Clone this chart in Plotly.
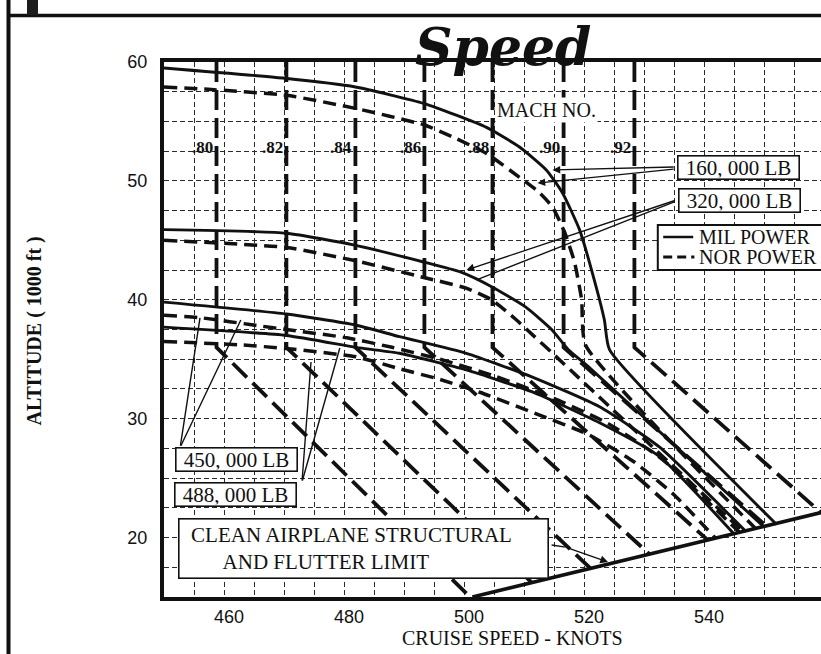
import plotly.graph_objects as go

# ---------------- data ----------------
# axes
x_range = [450, 559.5]
y_range = [15, 60]
x_grid_vals = [450, 455, 460, 465, 470, 475, 480, 485, 490, 495, 500, 505, 510,
               515, 520, 525, 530, 535, 540, 545, 550, 555]
x_grid_text = ["", "", "460", "", "", "", "480", "", "", "", "500", "", "",
               "", "520", "", "", "", "540", "", "", ""]
y_grid_vals = [15, 17.5, 20, 22.5, 25, 27.5, 30, 32.5, 35, 37.5, 40, 42.5, 45,
               47.5, 50, 52.5, 55, 57.5, 60]
y_grid_text = ["", "", "20", "", "", "", "30", "", "", "", "40", "", "",
               "", "50", "", "", "", "60"]

# Mach number lines (vertical above tropopause, diagonal below)
mach_labels = [".80", ".82", ".84", ".86", ".88", ".90", ".92"]
mach_top_kt = [458.75, 470.4, 481.9, 493.4, 504.75, 516.6, 528.4]
mach_top_alt = [60, 60, 60, 60, 60, 60, 60]
mach_break_alt = [36.0, 36.0, 36.0, 36.0, 36.0, 36.0, 36.0]
mach_end_kt = [501.0, 511.3, 521.1, 530.9, 540.6, 550.3, 559.5]
mach_end_alt = [15.0, 16.2, 17.4, 18.6, 19.8, 21.0, 22.1]

# 160,000 LB
w160_mil_kt = [450.0, 469.75, 481.9, 493.4, 503.75, 509.25, 513.75, 516.4, 519.25,
               521.4, 523.4, 524.25, 552.1]
w160_mil_alt = [59.5, 58.65, 57.9, 56.5, 54.5, 52.85, 50.9, 49.0, 45.9,
                42.25, 38.3, 35.8, 21.1]
w160_nor_kt = [450.0, 457.4, 470.4, 481.9, 493.4, 498.1, 503.75, 509.25, 512.6,
               514.75, 516.75, 518.4, 519.6, 520.25, 548.5]
w160_nor_alt = [57.9, 57.7, 57.2, 56.1, 54.7, 53.7, 52.3, 50.3, 49.0,
                47.8, 45.7, 43.2, 40.0, 36.2, 20.8]

# 320,000 LB
w320_mil_kt = [450.0, 470.4, 481.75, 493.1, 499.6, 504.6, 510.25, 514.6, 517.4,
               520.9, 550.0]
w320_mil_alt = [45.9, 45.6, 44.6, 43.2, 42.3, 41.1, 39.4, 37.5, 35.8,
                34.3, 20.9]
w320_nor_kt = [450.0, 470.4, 481.75, 493.1, 500.25, 504.6, 508.75, 511.75, 514.75,
               546.5]
w320_nor_alt = [45.0, 44.4, 43.3, 41.9, 41.0, 40.0, 38.3, 36.9, 35.5,
                20.5]

# 450,000 LB
w450_mil_kt = [450.0, 470.4, 481.75, 489.25, 500.4, 511.4, 522.6, 532.6, 547.0]
w450_mil_alt = [39.8, 38.8, 37.9, 36.9, 35.5, 33.5, 31.0, 27.6, 20.5]
w450_nor_kt = [450.0, 455.9, 466.0, 470.4, 480.5, 488.0, 496.0, 505.0, 515.0,
               524.0, 533.0, 546.0]
w450_nor_alt = [38.7, 38.5, 37.8, 37.5, 36.8, 36.0, 35.0, 33.6, 31.7,
                29.6, 26.6, 20.4]

# 488,000 LB
w488_mil_kt = [450.0, 470.4, 482.6, 489.25, 500.4, 511.4, 522.6, 532.6, 545.0]
w488_mil_alt = [37.7, 37.0, 35.95, 35.5, 34.1, 32.25, 29.65, 26.8, 20.3]
w488_nor_kt = [450.0, 463.0, 470.4, 482.0, 489.25, 496.0, 502.75, 512.6, 520.6,
               528.25, 535.0, 542.0]
w488_nor_alt = [36.5, 36.2, 35.9, 35.2, 34.2, 33.3, 32.2, 30.3, 28.7,
                26.4, 23.6, 19.9]

# clean airplane structural and flutter limit
limit_kt = [501.4, 559.5]
limit_alt = [15.0, 22.1]

# ---------------- figure ----------------
INK = "#111111"
SERIF = "Liberation Serif"
fig = go.Figure()

# Mach lines
for i in range(len(mach_labels)):
    fig.add_trace(go.Scatter(
        x=[mach_top_kt[i], mach_top_kt[i], mach_end_kt[i]],
        y=[mach_top_alt[i], mach_break_alt[i], mach_end_alt[i]],
        mode="lines", line=dict(color=INK, width=3.8, dash="20px,8px"),
        hoverinfo="skip"))

curves = [
    (w160_mil_kt, w160_mil_alt, "solid"), (w160_nor_kt, w160_nor_alt, "nor"),
    (w320_mil_kt, w320_mil_alt, "solid"), (w320_nor_kt, w320_nor_alt, "nor"),
    (w450_mil_kt, w450_mil_alt, "solid"), (w450_nor_kt, w450_nor_alt, "nor"),
    (w488_mil_kt, w488_mil_alt, "solid"), (w488_nor_kt, w488_nor_alt, "nor"),
]
for xs, ys, kind in curves:
    if kind == "solid":
        ln = dict(color=INK, width=2.9, shape="spline", smoothing=0.5)
    else:
        ln = dict(color=INK, width=3.5, dash="13px,7px", shape="spline", smoothing=0.5)
    fig.add_trace(go.Scatter(x=xs, y=ys, mode="lines", line=ln, hoverinfo="skip"))

fig.add_trace(go.Scatter(x=limit_kt, y=limit_alt, mode="lines",
                         line=dict(color=INK, width=3.6), hoverinfo="skip"))

grid = dict(showgrid=True, gridcolor="#2a2a2a", gridwidth=1.2, griddash="5px,3px",
            zeroline=False)
fig.update_xaxes(range=x_range, tickmode="array", tickvals=x_grid_vals,
                 ticktext=x_grid_text, showline=True, linewidth=4, linecolor=INK,
                 mirror=True, ticks="", ticklabelstandoff=0, ticklabelshift=5,
                 tickfont=dict(family="Liberation Sans", size=18, color=INK), **grid)
fig.update_yaxes(range=y_range, tickmode="array", tickvals=y_grid_vals,
                 ticktext=y_grid_text, showline=True, linewidth=4, linecolor=INK,
                 mirror=False, ticks="", ticklabelstandoff=9,
                 tickfont=dict(family="Liberation Sans", size=18, color=INK), **grid)

# pixel -> paper helpers for decorations outside the plot area
def xp(px):
    return (px - 164) / 657.0

def yp(py):
    return (597 - py) / 535.0

shapes = [
    dict(type="line", xref="paper", yref="paper", x0=xp(8.5), x1=xp(8.5),
         y0=yp(0), y1=yp(654), line=dict(color=INK, width=4)),
    dict(type="line", xref="paper", yref="paper", x0=xp(8), x1=xp(822),
         y0=yp(15.5), y1=yp(15.5), line=dict(color=INK, width=3.5)),
    dict(type="rect", xref="paper", yref="paper", x0=xp(27), x1=xp(38),
         y0=yp(15), y1=yp(0), fillcolor="#1c1c1c", line=dict(width=0)),
    # legend box
    dict(type="rect", xref="x", yref="y", x0=532.3, x1=575, y0=42.5, y1=46.3,
         fillcolor="white", line=dict(color=INK, width=2), layer="above"),
    dict(type="line", xref="x", yref="y", x0=533.2, x1=538.2, y0=45.28, y1=45.28,
         line=dict(color=INK, width=2.5), layer="above"),
    dict(type="line", xref="x", yref="y", x0=533.2, x1=538.4, y0=43.6, y1=43.6,
         line=dict(color=INK, width=3, dash="9px,5px"), layer="above"),
    # short leader from structural limit box
    dict(type="line", xref="x", yref="y", x0=514.6, x1=516.9, y0=19.37, y1=19.2,
         line=dict(color=INK, width=1.4), layer="above"),
]

ann = []
# title
ann.append(dict(text="<b><i>Speed</i></b>", xref="paper", yref="paper",
                x=xp(503), y=yp(46), xanchor="center", yanchor="middle",
                showarrow=False,
                font=dict(family="DejaVu Serif", size=52, color=INK)))
# axis titles
ann.append(dict(text="<b>ALTITUDE ( 1000 ft )</b>", xref="paper", yref="paper",
                x=xp(33.5), y=yp(331), xanchor="center", yanchor="middle",
                textangle=-90, showarrow=False,
                font=dict(family=SERIF, size=20, color=INK)))
ann.append(dict(text="CRUISE SPEED - KNOTS", xref="paper", yref="paper",
                x=xp(512), y=yp(638), xanchor="center", yanchor="middle",
                showarrow=False,
                font=dict(family=SERIF, size=20, color=INK)))
# Mach labels
for i in range(len(mach_labels)):
    ann.append(dict(text="<b>" + mach_labels[i] + "</b>", x=mach_top_kt[i] - 0.2,
                    y=52.85, xanchor="right", yanchor="middle", showarrow=False,
                    font=dict(family=SERIF, size=17, color=INK)))
ann.append(dict(text="MACH NO.", x=513.8, y=55.96, showarrow=False,
                bgcolor="white", font=dict(family=SERIF, size=20, color=INK)))

# leader arrows: (head x, head y, tail x, tail y, arrowhead)
leaders = [
    (514.75, 50.92, 535.2, 51.17, 2), (512.25, 49.82, 535.2, 51.0, 2),
    (500.42, 42.51, 535.4, 48.39, 2), (502.08, 41.67, 535.4, 48.3, 0),
    (456.0, 38.47, 452.7, 27.6, 0), (462.8, 38.3, 452.7, 27.6, 0),
    (474.5, 34.77, 473.0, 24.67, 0), (479.3, 35.94, 473.0, 24.67, 0),
    (524.0, 17.94, 516.9, 19.2, 2),
]
for hx, hy, tx, ty, head in leaders:
    ann.append(dict(text="", x=hx, y=hy, ax=tx, ay=ty, axref="x", ayref="y",
                    showarrow=True, arrowhead=head, arrowsize=1.1,
                    arrowwidth=1.4, arrowcolor=INK))

box = dict(showarrow=False, bgcolor="white", bordercolor=INK, borderwidth=1.6,
           borderpad=1)
for txt, bx, by in [("160, 000 LB", 545.75, 51.13), ("320, 000 LB", 545.92, 48.39),
                    ("450, 000 LB", 462.1, 26.53), ("488, 000 LB", 461.9, 23.58)]:
    ann.append(dict(text=txt, x=bx, y=by, width=118, height=20,
                    font=dict(family=SERIF, size=21, color=INK), **box))
ann.append(dict(text="\u00a0\u00a0CLEAN AIRPLANE STRUCTURAL<br>"
                     "\u00a0\u00a0\u00a0\u00a0\u00a0\u00a0\u00a0\u00a0AND FLUTTER LIMIT",
                x=483.25, y=19.04, width=366, height=56, align="left",
                font=dict(family=SERIF, size=21, color=INK), **box))
# legend text
ann.append(dict(text="MIL POWER", x=538.8, y=45.28, xanchor="left", showarrow=False,
                font=dict(family=SERIF, size=20, color=INK)))
ann.append(dict(text="NOR POWER", x=538.8, y=43.6, xanchor="left", showarrow=False,
                font=dict(family=SERIF, size=20, color=INK)))

fig.update_layout(width=821, height=654, margin=dict(l=164, r=0, t=62, b=57),
                  paper_bgcolor="white", plot_bgcolor="white", showlegend=False,
                  shapes=shapes, annotations=ann)

fig.write_html("out.html", config={"displayModeBar": False},
               post_script="document.body.style.margin='0px';"
                           "document.body.style.overflow='hidden';")
